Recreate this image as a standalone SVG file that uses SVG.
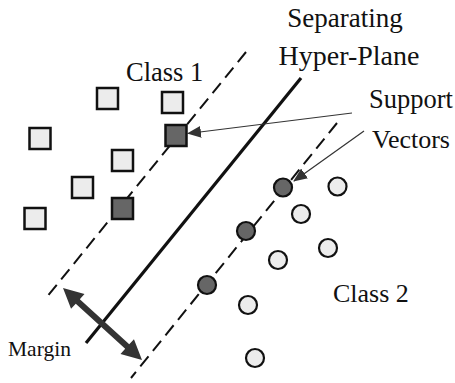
<svg xmlns="http://www.w3.org/2000/svg" width="455" height="383" viewBox="0 0 455 383">
<defs>
<style>
.lbl{font-family:"Liberation Serif","Times New Roman",serif;font-size:26px;fill:#111}
.sq{fill:#ececec;stroke:#111;stroke-width:2.5}
.sqd{fill:#666;stroke:#111;stroke-width:2.5}
.ci{fill:#ececec;stroke:#111;stroke-width:2.2}
.cid{fill:#666;stroke:#111;stroke-width:2.2}
.dash{stroke:#111;stroke-width:2;stroke-dasharray:13 7;fill:none}
.thin{stroke:#333;stroke-width:1.2;fill:none}
</style>
<marker id="ah" viewBox="0 0 14 12" refX="13" refY="6" markerWidth="14" markerHeight="12" markerUnits="userSpaceOnUse" orient="auto">
<path d="M0,0 L14,6 L0,12 z" fill="#333"/>
</marker>
</defs>
<rect width="455" height="383" fill="#fff"/>
<g id="connectors">
<line class="dash" x1="246" y1="52" x2="46" y2="298"/>
<line x1="301" y1="78" x2="86" y2="343" stroke="#111" stroke-width="3.2"/>
<line class="dash" x1="337" y1="123" x2="131" y2="378"/>
<line class="thin" x1="352" y1="113" x2="188" y2="133.5" marker-end="url(#ah)"/>
<line class="thin" x1="364" y1="131" x2="294" y2="181" marker-end="url(#ah)"/>
<path id="margin-arrow" d="M63,288 L71.05,308.85 L75.76,303.68 L125.2,348.76 L120.49,353.93 L142,360 L133.95,339.15 L129.24,344.32 L79.8,299.24 L84.51,294.07 Z" fill="#333"/>
</g>
<g id="class1">
<rect class="sq" x="97" y="88" width="21" height="21"/>
<rect class="sq" x="162" y="92" width="21" height="21"/>
<rect class="sq" x="29.5" y="128" width="21" height="21"/>
<rect class="sqd" x="165.5" y="125" width="21" height="21"/>
<rect class="sq" x="112" y="150" width="21" height="21"/>
<rect class="sq" x="72" y="177" width="21" height="21"/>
<rect class="sqd" x="112" y="198" width="21" height="21"/>
<rect class="sq" x="24.5" y="208" width="21" height="21"/>
</g>
<g id="class2">
<circle class="cid" cx="283" cy="187.5" r="9"/>
<circle class="ci" cx="337.5" cy="186.5" r="9"/>
<circle class="ci" cx="301" cy="214" r="9"/>
<circle class="cid" cx="246" cy="231" r="9"/>
<circle class="ci" cx="328" cy="248" r="9"/>
<circle class="ci" cx="278" cy="260" r="9"/>
<circle class="cid" cx="207" cy="285" r="9"/>
<circle class="ci" cx="248" cy="305" r="9"/>
<circle class="ci" cx="255" cy="358" r="9"/>
</g>
<g id="labels">
<text class="lbl" x="126" y="81" style="font-size:26.5px">Class 1</text>
<text class="lbl" x="345" y="27" text-anchor="middle" style="font-size:27px">Separating</text>
<text class="lbl" x="349" y="65" text-anchor="middle" style="font-size:28px">Hyper-Plane</text>
<text class="lbl" x="369" y="108" style="font-size:26.5px">Support</text>
<text class="lbl" x="372" y="148">Vectors</text>
<text class="lbl" x="333" y="302">Class 2</text>
<text class="lbl" x="8" y="356" style="font-size:21.5px">Margin</text>
</g>
</svg>
